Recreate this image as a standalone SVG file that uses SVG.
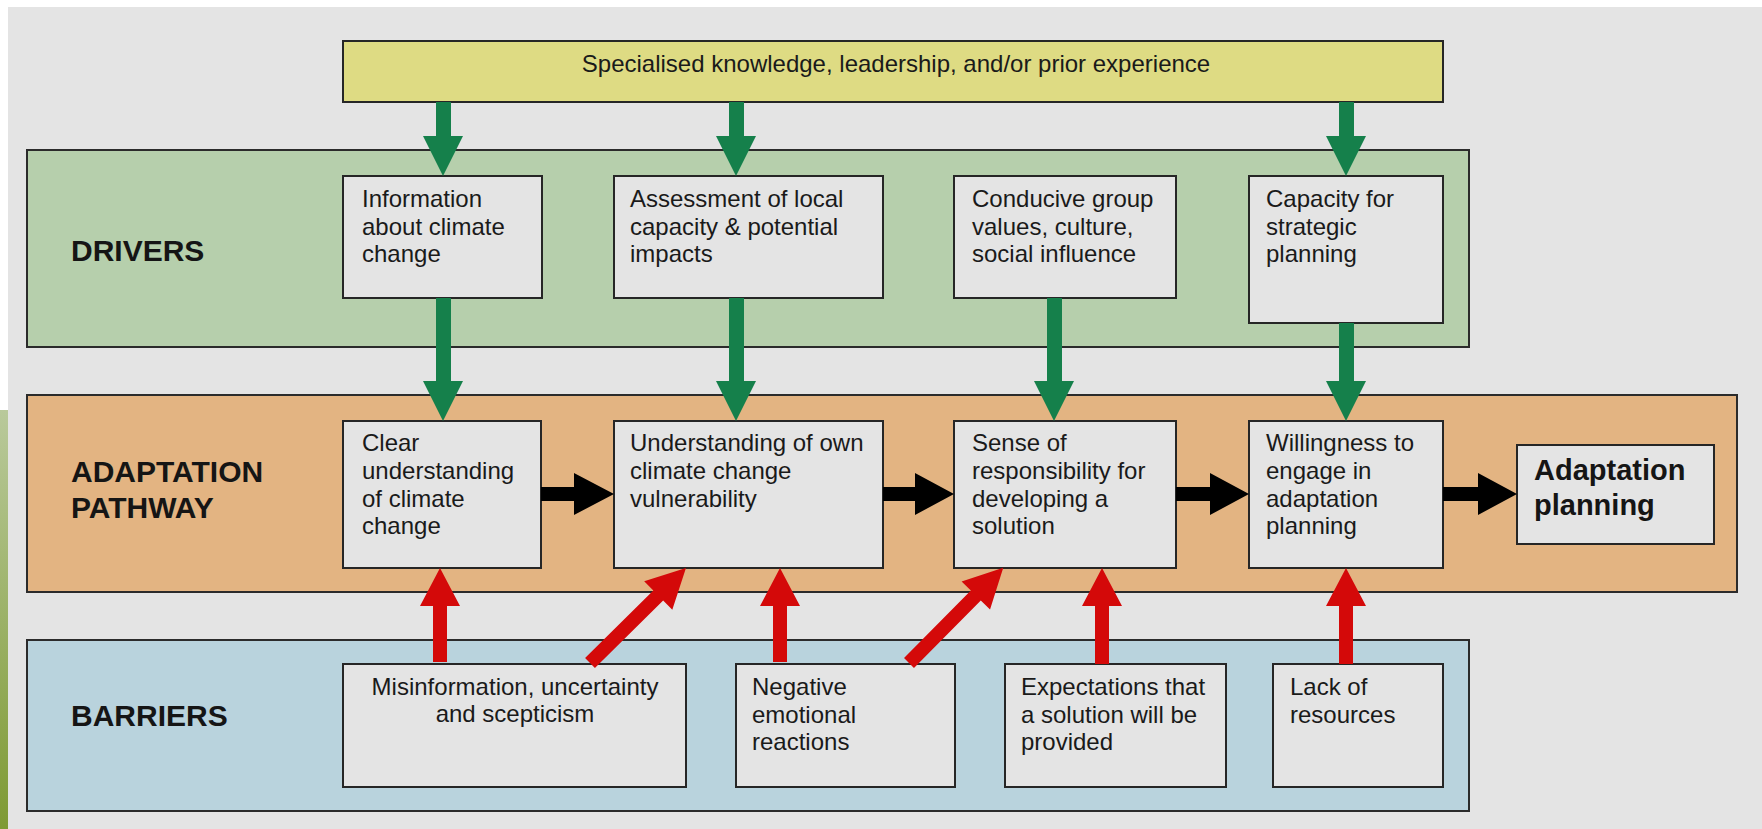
<svg xmlns="http://www.w3.org/2000/svg" width="1762" height="829" viewBox="0 0 1762 829">
<defs>
<linearGradient id="strip" x1="0" y1="0" x2="0" y2="1">
<stop offset="0" stop-color="#b9c99b"/>
<stop offset="1" stop-color="#7e9a33"/>
</linearGradient>
</defs>
<style>
.lane{stroke:#2b2b2b;stroke-width:2}
.box{fill:#e4e4e4;stroke:#262626;stroke-width:2}
.t{font-family:"Liberation Sans",Arial,sans-serif;font-size:24px;fill:#1a1a1a}
.lbl{font-family:"Liberation Sans",Arial,sans-serif;font-size:30px;font-weight:bold;fill:#151515}
.big{font-family:"Liberation Sans",Arial,sans-serif;font-size:29px;font-weight:bold;fill:#151515}
.g{fill:#15804b}
.k{fill:#000}
.r{fill:#d40909}
</style>
<rect x="0" y="0" width="1762" height="829" fill="#ffffff"/>
<rect x="8" y="7" width="1754" height="822" fill="#e4e4e4"/>
<rect x="0" y="410" width="8" height="419" fill="url(#strip)"/>

<g id="lane-drivers">
<rect class="lane" x="27" y="150" width="1442" height="197" fill="#b6cfac"/>
<text class="lbl" x="71" y="261">DRIVERS</text>
</g>
<g id="lane-pathway">
<rect class="lane" x="27" y="395" width="1710" height="197" fill="#e3b482"/>
<text class="lbl" x="71" y="482">ADAPTATION</text>
<text class="lbl" x="71" y="518">PATHWAY</text>
</g>
<g id="lane-barriers">
<rect class="lane" x="27" y="640" width="1442" height="171" fill="#b9d3dd"/>
<text class="lbl" x="71" y="726">BARRIERS</text>
</g>

<g id="specialised">
<rect x="343" y="41" width="1100" height="61" fill="#dedb83" stroke="#262626" stroke-width="2"/>
<text class="t" x="896" y="72" text-anchor="middle">Specialised knowledge, leadership, and/or prior experience</text>
</g>

<g id="information">
<rect class="box" x="343" y="176" width="199" height="122"/>
<text class="t" x="362" y="207">Information</text>
<text class="t" x="362" y="235">about climate</text>
<text class="t" x="362" y="262">change</text>
</g>
<g id="assessment">
<rect class="box" x="614" y="176" width="269" height="122"/>
<text class="t" x="630" y="207">Assessment of local</text>
<text class="t" x="630" y="235">capacity &amp; potential</text>
<text class="t" x="630" y="262">impacts</text>
</g>
<g id="conducive">
<rect class="box" x="954" y="176" width="222" height="122"/>
<text class="t" x="972" y="207">Conducive group</text>
<text class="t" x="972" y="235">values, culture,</text>
<text class="t" x="972" y="262">social influence</text>
</g>
<g id="capacity">
<rect class="box" x="1249" y="176" width="194" height="147"/>
<text class="t" x="1266" y="207">Capacity for</text>
<text class="t" x="1266" y="235">strategic</text>
<text class="t" x="1266" y="262">planning</text>
</g>

<g id="clear">
<rect class="box" x="343" y="421" width="198" height="147"/>
<text class="t" x="362" y="451">Clear</text>
<text class="t" x="362" y="479">understanding</text>
<text class="t" x="362" y="507">of climate</text>
<text class="t" x="362" y="534">change</text>
</g>
<g id="understanding">
<rect class="box" x="614" y="421" width="269" height="147"/>
<text class="t" x="630" y="451">Understanding of own</text>
<text class="t" x="630" y="479">climate change</text>
<text class="t" x="630" y="507">vulnerability</text>
</g>
<g id="sense">
<rect class="box" x="954" y="421" width="222" height="147"/>
<text class="t" x="972" y="451">Sense of</text>
<text class="t" x="972" y="479">responsibility for</text>
<text class="t" x="972" y="507">developing a</text>
<text class="t" x="972" y="534">solution</text>
</g>
<g id="willingness">
<rect class="box" x="1249" y="421" width="194" height="147"/>
<text class="t" x="1266" y="451">Willingness to</text>
<text class="t" x="1266" y="479">engage in</text>
<text class="t" x="1266" y="507">adaptation</text>
<text class="t" x="1266" y="534">planning</text>
</g>
<g id="adaptation-planning">
<rect class="box" x="1517" y="445" width="197" height="99"/>
<text class="big" x="1534" y="480">Adaptation</text>
<text class="big" x="1534" y="515">planning</text>
</g>

<g id="misinformation">
<rect class="box" x="343" y="664" width="343" height="123"/>
<text class="t" x="515" y="695" text-anchor="middle">Misinformation, uncertainty</text>
<text class="t" x="515" y="722" text-anchor="middle">and scepticism</text>
</g>
<g id="negative">
<rect class="box" x="736" y="664" width="219" height="123"/>
<text class="t" x="752" y="695">Negative</text>
<text class="t" x="752" y="723">emotional</text>
<text class="t" x="752" y="750">reactions</text>
</g>
<g id="expectations">
<rect class="box" x="1005" y="664" width="221" height="123"/>
<text class="t" x="1021" y="695">Expectations that</text>
<text class="t" x="1021" y="723">a solution will be</text>
<text class="t" x="1021" y="750">provided</text>
</g>
<g id="lack">
<rect class="box" x="1273" y="664" width="170" height="123"/>
<text class="t" x="1290" y="695">Lack of</text>
<text class="t" x="1290" y="723">resources</text>
</g>

<g id="connectors">
<path class="g" d="M436,102 H451 V136 H463 L443,176 L423,136 H436 Z"/>
<path class="g" d="M729,102 H744 V136 H756 L736,176 L716,136 H729 Z"/>
<path class="g" d="M1339,102 H1354 V136 H1366 L1346,176 L1326,136 H1339 Z"/>
<path class="g" d="M436,298 H451 V381 H463 L443,421 L423,381 H436 Z"/>
<path class="g" d="M729,298 H744 V381 H756 L736,421 L716,381 H729 Z"/>
<path class="g" d="M1047,298 H1062 V381 H1074 L1054,421 L1034,381 H1047 Z"/>
<path class="g" d="M1339,323 H1354 V381 H1366 L1346,421 L1326,381 H1339 Z"/>
<path class="k" d="M541,487 H574 V473 L614,494 L574,515 V501 H541 Z"/>
<path class="k" d="M883,487 H915 V473 L954,494 L915,515 V501 H883 Z"/>
<path class="k" d="M1176,487 H1210 V473 L1249,494 L1210,515 V501 H1176 Z"/>
<path class="k" d="M1443,487 H1478 V473 L1517,494 L1478,515 V501 H1443 Z"/>
<path class="r" d="M433,662 V606 H420 L440,568 L460,606 H447 V662 Z"/>
<path class="r" d="M773,662 V606 H760 L780,568 L800,606 H787 V662 Z"/>
<path class="r" d="M1095,664 V606 H1082 L1102,568 L1122,606 H1109 V664 Z"/>
<path class="r" d="M1339,664 V606 H1326 L1346,568 L1366,606 H1353 V664 Z"/>
<path class="r" transform="translate(590,663) rotate(-44.7)" d="M0,-7 H96 V-20 L135,0 L96,20 V7 H0 Z"/>
<path class="r" transform="translate(909,663) rotate(-45.3)" d="M0,-7 H95 V-20 L134,0 L95,20 V7 H0 Z"/>
</g>
</svg>
